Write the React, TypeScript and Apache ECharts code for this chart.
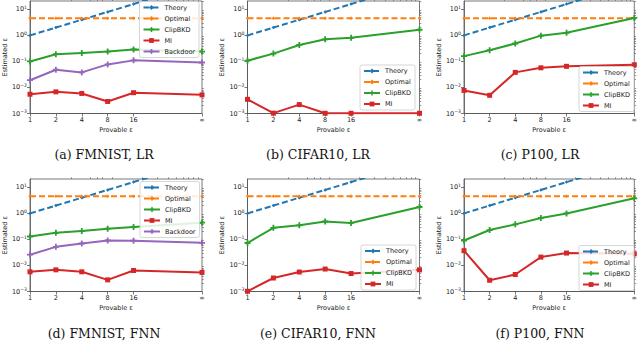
import React, { useEffect, useRef } from "react";
import * as echarts from "echarts";

// x positions (∞ is drawn at 100 on the log axis)
const xVals = [1, 2, 4, 8, 16, 100];
const xLabels = ["1", "2", "4", "8", "16", "∞"];
const yTicks = [0.001, 0.01, 0.1, 1, 10];

const theory = [1, 2, 4, 8, 16, 100];
const optimal = [4.6, 4.6, 4.6, 4.6, 4.6, 4.6];

// (a) FMNIST, LR
const clipA = [0.1, 0.19, 0.21, 0.24, 0.29, 0.24];
const miA = [0.0055, 0.0068, 0.0059, 0.0029, 0.0063, 0.0052];
const backdoorA = [0.019, 0.048, 0.038, 0.077, 0.11, 0.091];
// (b) CIFAR10, LR
const clipB = [0.107, 0.2, 0.43, 0.71, 0.81, 1.65];
const miB = [0.0035, 0.00103, 0.0022, 0.00102, 0.00102, 0.00102];
// (c) P100, LR
const clipC = [0.16, 0.27, 0.49, 0.98, 1.26, 4.7];
const miC = [0.0077, 0.005, 0.038, 0.057, 0.065, 0.074];
// (d) FMNIST, FNN
const clipD = [0.13, 0.18, 0.21, 0.26, 0.3, 0.44];
const miD = [0.0057, 0.0068, 0.0057, 0.0028, 0.0064, 0.0054];
const backdoorD = [0.026, 0.052, 0.07, 0.091, 0.089, 0.074];
// (e) CIFAR10, FNN
const clipE = [0.073, 0.28, 0.35, 0.49, 0.43, 1.76];
const miE = [0.00102, 0.0033, 0.0056, 0.0073, 0.0049, 0.0068];
// (f) P100, FNN
const clipF = [0.091, 0.23, 0.38, 0.67, 1.0, 3.8];
const miF = [0.037, 0.0027, 0.0045, 0.021, 0.03, 0.028];

const captions = [
  "(a) FMNIST, LR",
  "(b) CIFAR10, LR",
  "(c) P100, LR",
  "(d) FMNIST, FNN",
  "(e) CIFAR10, FNN",
  "(f) P100, FNN",
];

const FONT = "DejaVu Sans";
const TXT = "#222";
const AX = "#555";
const FS = 6.5;
const C = {
  theory: "#1f77b4",
  optimal: "#ff7f0e",
  clip: "#2ca02c",
  mi: "#d62728",
  backdoor: "#9467bd",
};
const PLUS = "path://M3.5,0H6.5V3.5H10V6.5H6.5V10H3.5V6.5H0V3.5H3.5Z";

export default function App() {
  const ref = useRef<HTMLDivElement>(null);
  useEffect(() => {
    if (!ref.current) return;
    const chart = echarts.init(ref.current, null, { renderer: "svg" });

    const panels = [
      { clip: clipA, mi: miA, bd: backdoorA, left: 30, top: 1, w: 172, legend: { left: 139.5, top: 1.5 } },
      { clip: clipB, mi: miB, bd: null, left: 247.5, top: 1, w: 172, legend: { left: 360, top: 65 } },
      { clip: clipC, mi: miC, bd: null, left: 464, top: 1, w: 173, legend: { left: 579, top: 66.5 } },
      { clip: clipD, mi: miD, bd: backdoorD, left: 30, top: 179, w: 172, legend: { left: 140, top: 181.5 } },
      { clip: clipE, mi: miE, bd: null, left: 247.5, top: 179, w: 172, legend: { left: 361, top: 245 } },
      { clip: clipF, mi: miF, bd: null, left: 464, top: 179, w: 172, legend: { left: 579, top: 245.5 } },
    ];

    const grids: any[] = [];
    const xAxes: any[] = [];
    const yAxes: any[] = [];
    const series: any[] = [];
    const legends: any[] = [];
    const graphics: any[] = [];

    const xMinor = [3, 5, 6, 7, 9, 20, 30, 40, 50, 60, 70, 80, 90];
    const yMinor: number[] = [];
    for (let e = -3; e <= 1; e++) {
      for (let m = 2; m <= 9; m++) {
        const v = m * Math.pow(10, e);
        if (v <= 21) yMinor.push(v);
      }
    }

    const pts = (ys: number[]) => xVals.map((x, i) => [x, ys[i]]);

    panels.forEach((p, i) => {
      grids.push({
        left: p.left,
        top: p.top,
        width: p.w,
        height: 112.5,
        show: true,
        borderColor: AX,
        borderWidth: 0.8,
        backgroundColor: "transparent",
      });
      const xi = xAxes.length;
      xAxes.push({
        type: "log",
        logBase: 10,
        gridIndex: i,
        min: 1,
        max: 100,
        axisLine: { show: true, lineStyle: { color: AX, width: 0.8 } },
        axisTick: { show: true, customValues: xVals, length: 3, lineStyle: { color: AX, width: 0.8 } },
        axisLabel: {
          customValues: xVals,
          formatter: (v: number) => xLabels[xVals.indexOf(Math.round(v))] ?? "",
          fontSize: FS,
          fontFamily: FONT,
          color: TXT,
          margin: 3,
        },
        splitLine: { show: false },
        name: "Provable ε",
        nameLocation: "middle",
        nameGap: 13,
        nameTextStyle: { fontSize: FS, fontFamily: FONT, color: TXT },
      });
      xAxes.push({
        type: "log",
        logBase: 10,
        gridIndex: i,
        min: 1,
        max: 100,
        axisLine: { show: false },
        axisTick: { show: true, customValues: xMinor, length: 1.8, lineStyle: { color: AX, width: 0.6 } },
        axisLabel: { show: false },
        splitLine: { show: false },
      });
      const yi = yAxes.length;
      yAxes.push({
        type: "log",
        logBase: 10,
        gridIndex: i,
        min: 0.001,
        max: 21,
        axisLine: { show: true, lineStyle: { color: AX, width: 0.8 } },
        axisTick: { show: true, customValues: yTicks, length: 3, lineStyle: { color: AX, width: 0.8 } },
        axisLabel: {
          customValues: yTicks,
          formatter: (v: number) => {
            const e = Math.round(Math.log10(v));
            return `{b|10}{e|${e < 0 ? "−" + -e : e}}`;
          },
          margin: 3,
          rich: {
            b: { fontSize: FS, fontFamily: FONT, color: TXT, lineHeight: 8 },
            e: { fontSize: 4.6, fontFamily: FONT, color: TXT, lineHeight: 8, padding: [0, 0, 4, 0] },
          },
        },
        splitLine: { show: false },
        name: "Estimated ε",
        nameLocation: "middle",
        nameGap: 21,
        nameTextStyle: { fontSize: FS, fontFamily: FONT, color: TXT },
      });
      yAxes.push({
        type: "log",
        logBase: 10,
        gridIndex: i,
        min: 0.001,
        max: 21,
        axisLine: { show: false },
        axisTick: { show: true, customValues: yMinor, length: 1.8, lineStyle: { color: AX, width: 0.6 } },
        axisLabel: { show: false },
        splitLine: { show: false },
      });

      const base = { type: "line", xAxisIndex: xi, yAxisIndex: yi, clip: true, z: 3 };
      series.push({
        ...base,
        name: "Theory",
        data: pts(theory),
        lineStyle: { color: C.theory, width: 2, type: [6, 3] },
        itemStyle: { color: C.theory },
        symbol: "diamond",
        symbolSize: 3.5,
      });
      series.push({
        ...base,
        name: "Optimal",
        data: pts(optimal),
        lineStyle: { color: C.optimal, width: 2, type: [6, 3] },
        itemStyle: { color: C.optimal },
        symbol: "diamond",
        symbolSize: 3.5,
      });
      series.push({
        ...base,
        name: "ClipBKD",
        data: pts(p.clip),
        lineStyle: { color: C.clip, width: 2 },
        itemStyle: { color: C.clip },
        symbol: PLUS,
        symbolSize: 6,
      });
      series.push({
        ...base,
        name: "MI",
        data: pts(p.mi),
        lineStyle: { color: C.mi, width: 2 },
        itemStyle: { color: C.mi },
        symbol: "rect",
        symbolSize: 5,
      });
      const names = ["Theory", "Optimal", "ClipBKD", "MI"];
      if (p.bd) {
        series.push({
          ...base,
          name: "Backdoor",
          data: pts(p.bd),
          lineStyle: { color: C.backdoor, width: 2 },
          itemStyle: { color: C.backdoor },
          symbol: PLUS,
          symbolSize: 6,
        });
        names.push("Backdoor");
      }
      legends.push({
        data: names,
        orient: "vertical",
        left: p.legend.left,
        top: p.legend.top,
        padding: [2, 4, 2, 3],
        itemWidth: 16,
        itemHeight: 6,
        itemGap: 3,
        selectedMode: false,
        textStyle: { fontSize: FS, fontFamily: FONT, color: TXT, lineHeight: 8 },
        backgroundColor: "rgba(255,255,255,0.85)",
        borderColor: "#ccc",
        borderWidth: 0.8,
        borderRadius: 2,
        z: 10,
      });

      const cx = [104, 318, 540][i % 3];
      const cy = i < 3 ? 154 : 333;
      graphics.push({
        type: "text",
        x: cx,
        y: cy,
        style: {
          text: captions[i],
          fontSize: 12.5,
          fontFamily: "DejaVu Serif",
          fill: "#111",
          align: "center",
          verticalAlign: "middle",
        },
      });
    });

    chart.setOption({
      animation: false,
      backgroundColor: "#fff",
      grid: grids,
      xAxis: xAxes,
      yAxis: yAxes,
      series,
      legend: legends,
      graphic: graphics,
    });
    return () => chart.dispose();
  }, []);

  return <div ref={ref} style={{ width: 640, height: 342, position: "absolute", left: 0, top: 0 }} />;
}
